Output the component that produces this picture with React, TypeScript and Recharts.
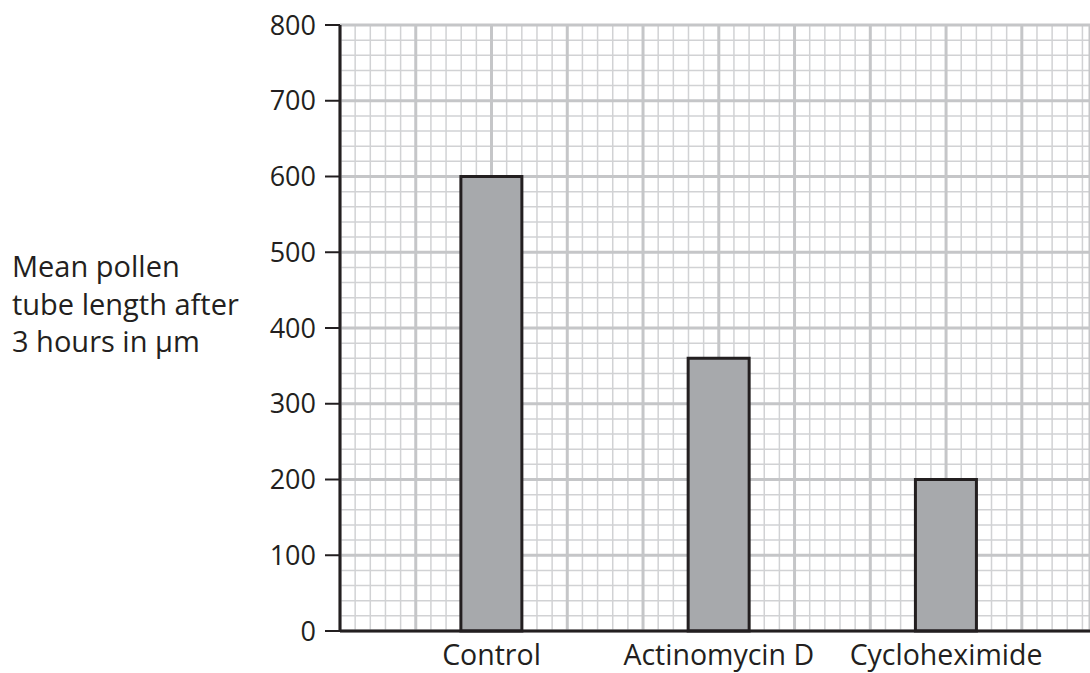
import React from "react";
import {
  ComposedChart,
  Bar,
  XAxis,
  YAxis,
  CartesianGrid,
  Label,
} from "recharts";

// treatments and mean pollen tube length (µm) after 3 hours
const treatments = ["Control", "Actinomycin D", "Cycloheximide"];
const treatmentPositions = [10, 25, 40];
const meanLengths = [600, 360, 200];

const yTicks = [0, 100, 200, 300, 400, 500, 600, 700, 800];
const yMinorTicks = Array.from({ length: 41 }, (_, i) => i * 20);
const xMax = 49.5;
const xMinorTicks = Array.from({ length: 50 }, (_, i) => i);
const xMajorTicks = Array.from({ length: 10 }, (_, i) => i * 5);

const yLabelLines = ["Mean pollen", "tube length after", "3 hours in µm"];

const data = treatments.map((name, i) => ({
  name,
  pos: treatmentPositions[i],
  length: meanLengths[i],
}));

const FONT = "'Open Sans', sans-serif";
const INK = "#231f20";

function YTitle() {
  return (
    <text x={12} y={277} fill={INK} fontSize={29} fontFamily={FONT}>
      {yLabelLines.map((line, i) => (
        <tspan key={line} x={12} dy={i === 0 ? 0 : 37.5}>
          {line}
        </tspan>
      ))}
    </text>
  );
}

// every minor tick gets a line (the default generator thins them out)
const minorRows = ({ yAxis, offset }: any) =>
  yMinorTicks.map((t) =>
    yAxis && typeof yAxis.scale === "function"
      ? yAxis.scale(t)
      : offset.top + offset.height * (1 - t / 800)
  );

export default function App() {
  const nameAt = (v: number) => {
    const i = treatmentPositions.indexOf(v);
    return i >= 0 ? treatments[i] : "";
  };

  return (
    <div style={{ width: 1090, height: 673, background: "#fff" }}>
      <style>{"body{margin:0}"}</style>
      <ComposedChart
        width={1090}
        height={673}
        data={data}
        margin={{ top: 25, right: 0, bottom: 0, left: 0 }}
      >
        <XAxis
          xAxisId="minor"
          type="number"
          dataKey="pos"
          domain={[0, xMax]}
          ticks={xMinorTicks}
          interval={0}
          hide
        />
        <XAxis
          xAxisId="major"
          type="number"
          dataKey="pos"
          domain={[0, xMax]}
          ticks={xMajorTicks}
          interval={0}
          hide
        />
        <YAxis
          yAxisId="minor"
          type="number"
          domain={[0, 800]}
          ticks={yMinorTicks}
          interval={0}
          hide
        />
        <CartesianGrid
          xAxisId="minor"
          yAxisId="minor"
          stroke="#d1d2d4"
          strokeWidth={1.5}
          horizontalCoordinatesGenerator={minorRows}
        />
        <CartesianGrid
          xAxisId="major"
          yAxisId="main"
          stroke="#c5c6c8"
          strokeWidth={3}
        />
        <XAxis
          xAxisId="cat"
          type="number"
          dataKey="pos"
          domain={[0, xMax]}
          ticks={treatmentPositions}
          tickFormatter={nameAt}
          tickLine={false}
          tickSize={0}
          tickMargin={14}
          height={42}
          axisLine={{ stroke: INK, strokeWidth: 3 }}
          tick={{ fill: INK, fontSize: 28.5, fontFamily: FONT }}
          interval={0}
        />
        <YAxis
          yAxisId="main"
          type="number"
          domain={[0, 800]}
          ticks={yTicks}
          interval={0}
          width={340}
          tickSize={15}
          tickMargin={9}
          axisLine={{ stroke: INK, strokeWidth: 3 }}
          tickLine={{ stroke: INK, strokeWidth: 2 }}
          tick={{ fill: INK, fontSize: 27, fontFamily: FONT }}
        >
          <Label content={<YTitle />} />
        </YAxis>
        <Bar
          xAxisId="cat"
          yAxisId="main"
          dataKey="length"
          barSize={61}
          fill="#a7a9ac"
          stroke={INK}
          strokeWidth={3}
          isAnimationActive={false}
        />
      </ComposedChart>
    </div>
  );
}
